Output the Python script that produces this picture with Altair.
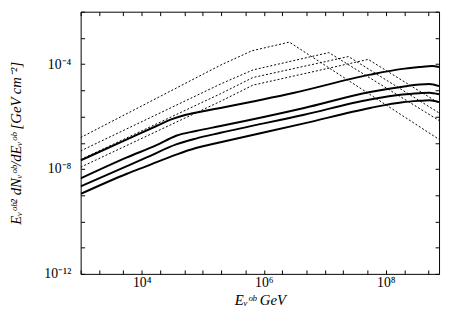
import altair as alt
import pandas as pd

# log10 of energy (GeV) and log10 of E^2 dN/dE (GeV cm^-2)
SOLID_1_LOG_E = [3.0, 3.758, 4.242, 4.484, 4.726, 5.048, 5.290, 6.5, 7.742, 8.274, 8.548, 8.758, 8.871]
SOLID_1_LOG_F = [-7.67, -6.87, -6.36, -6.11, -5.93, -5.78, -5.67, -5.09, -4.40, -4.18, -4.11, -4.07, -4.11]

SOLID_2_LOG_E = [3.0, 3.758, 4.242, 4.565, 4.887, 5.29, 6.661, 7.742, 8.274, 8.548, 8.71, 8.871]
SOLID_2_LOG_F = [-8.36, -7.56, -7.09, -6.73, -6.55, -6.36, -5.67, -5.06, -4.86, -4.78, -4.76, -4.84]

SOLID_3_LOG_E = [3.0, 3.758, 4.081, 4.565, 4.887, 5.29, 6.661, 7.742, 8.274, 8.548, 8.71, 8.871]
SOLID_3_LOG_F = [-8.66, -7.89, -7.56, -7.06, -6.84, -6.62, -5.93, -5.35, -5.16, -5.11, -5.09, -5.15]

SOLID_4_LOG_E = [3.0, 3.758, 4.081, 4.565, 4.887, 5.29, 6.661, 7.742, 8.274, 8.548, 8.71, 8.871]
SOLID_4_LOG_F = [-8.95, -8.18, -7.89, -7.45, -7.20, -6.98, -6.26, -5.67, -5.45, -5.40, -5.38, -5.45]

DOTTED_1_LOG_E = [3.0, 5.29, 5.806, 6.419, 8.871]
DOTTED_1_LOG_F = [-6.80, -4.04, -3.49, -3.16, -6.87]

DOTTED_2_LOG_E = [3.0, 5.29, 5.823, 7.065, 8.871]
DOTTED_2_LOG_F = [-7.31, -4.76, -4.22, -3.56, -6.15]

DOTTED_3_LOG_E = [3.0, 5.29, 5.823, 7.387, 8.871]
DOTTED_3_LOG_F = [-7.64, -5.13, -4.51, -3.71, -5.86]

DOTTED_4_LOG_E = [3.0, 5.29, 5.823, 7.71, 8.871]
DOTTED_4_LOG_F = [-7.93, -5.42, -4.80, -3.82, -5.49]

X_TICK_LABELS = {4: "10⁴", 6: "10⁶", 8: "10⁸"}
Y_TICK_LABELS = {-12: "10⁻¹²", -8: "10⁻⁸", -4: "10⁻⁴"}

series = [
    ("s1", "solid", SOLID_1_LOG_E, SOLID_1_LOG_F),
    ("s2", "solid", SOLID_2_LOG_E, SOLID_2_LOG_F),
    ("s3", "solid", SOLID_3_LOG_E, SOLID_3_LOG_F),
    ("s4", "solid", SOLID_4_LOG_E, SOLID_4_LOG_F),
    ("d1", "dotted", DOTTED_1_LOG_E, DOTTED_1_LOG_F),
    ("d2", "dotted", DOTTED_2_LOG_E, DOTTED_2_LOG_F),
    ("d3", "dotted", DOTTED_3_LOG_E, DOTTED_3_LOG_F),
    ("d4", "dotted", DOTTED_4_LOG_E, DOTTED_4_LOG_F),
]
rows = []
for name, style, le, lf in series:
    for i, (a, b) in enumerate(zip(le, lf)):
        rows.append({"series": name, "style": style, "order": i, "E": 10 ** a, "F": 10 ** b})
df = pd.DataFrame(rows)

X_MIN, X_MAX = 1e3, 10 ** 8.871
Y_MIN, Y_MAX = 1e-12, 1e-2

x_ticks = [m * 10 ** d for d in range(3, 9) for m in (1, 2, 5) if m * 10 ** d <= X_MAX]
y_ticks = [float(f"1e{k}") for k in range(-12, -1)]

def expr_for(labels):
    e = "log(datum.value)/LN10"
    out = "''"
    for k, v in labels.items():
        out = f"abs({e} - ({k})) < 0.001 ? '{v}' : ({out})"
    return out

FONT = "Liberation Serif"
common = dict(offset=-4, tickSize=4, domain=False, grid=False, tickColor="black",
              tickWidth=1, labelColor="black", labelFont=FONT, labelFontSize=14,
              labelOverlap=False, labelFlush=False)

axis_bottom = alt.Axis(orient="bottom", values=x_ticks, labelExpr=expr_for(X_TICK_LABELS),
                       labelPadding=2, title="Eᵥᵒᵇ GeV", titleFont=FONT, titleFontSize=15,
                       titleFontStyle="italic", titleFontWeight="normal", titleColor="black",
                       titlePadding=3, **common)
axis_left = alt.Axis(orient="left", values=y_ticks, labelExpr=expr_for(Y_TICK_LABELS),
                     labelPadding=10, title="Eᵥᵒᵇ² dNᵥᵒᵇ/dEᵥᵒᵇ [GeV cm⁻²]", titleFont=FONT,
                     titleFontSize=15, titleFontStyle="italic", titleFontWeight="normal",
                     titleColor="black", titleX=-70, titleBaseline="middle", **common)
axis_top = alt.Axis(orient="top", values=x_ticks, labels=False, title=None, offset=-4, tickSize=4,
                    domain=False, grid=False, tickColor="black", tickWidth=1)
axis_right = alt.Axis(orient="right", values=y_ticks, labels=False, title=None, offset=-4, tickSize=4,
                      domain=False, grid=False, tickColor="black", tickWidth=1)

xscale = alt.Scale(type="log", domain=[X_MIN, X_MAX], nice=False)
yscale = alt.Scale(type="log", domain=[Y_MIN, Y_MAX], nice=False)

solid = alt.Chart(df).transform_filter("datum.style == 'solid'").mark_line(
    color="black", strokeWidth=2, interpolate="monotone", clip=True
).encode(
    x=alt.X("E:Q", scale=xscale, axis=axis_bottom),
    y=alt.Y("F:Q", scale=yscale, axis=axis_left),
    detail="series:N", order="order:Q",
)

dotted = alt.Chart(df).transform_filter("datum.style == 'dotted'").mark_line(
    color="black", strokeWidth=1, strokeDash=[2, 2], clip=True
).encode(
    x=alt.X("E:Q", scale=xscale, axis=None),
    y=alt.Y("F:Q", scale=yscale, axis=None),
    detail="series:N", order="order:Q",
)

frame = alt.Chart(df).mark_line(opacity=0).encode(
    x=alt.X("E:Q", scale=xscale, axis=axis_top),
    y=alt.Y("F:Q", scale=yscale, axis=axis_right),
    detail="series:N",
)

chart = alt.layer(solid, dotted, frame).resolve_axis(
    x="independent", y="independent"
).properties(
    width=365, height=267,
    autosize=alt.AutoSizeParams(type="none"),
    padding={"left": 74, "top": 1, "right": 3, "bottom": 33},
).configure_view(stroke="black", strokeWidth=1)

chart.save("out.html", embed_options={"renderer": "svg", "actions": False})
